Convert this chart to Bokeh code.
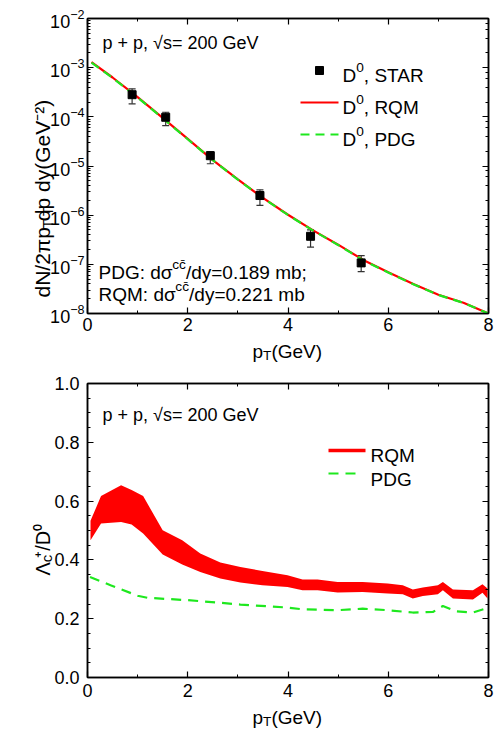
import math
from bokeh.plotting import figure
from bokeh.layouts import column
from bokeh.models import (Range1d, Label, LinearAxis, LogAxis, SingleIntervalTicker,
                          NumeralTickFormatter, CustomJSTickFormatter, Whisker, TeeHead,
                          ColumnDataSource, LogTicker)
from bokeh.embed import file_html
from bokeh.resources import INLINE

# ---------------- data ----------------
# top panel: D0 spectrum
star_pt = [0.89, 1.56, 2.45, 3.44, 4.45, 5.46]
star_val = [2.82e-4, 9.8e-5, 1.62e-5, 2.51e-6, 3.72e-7, 1.07e-7]
star_up = [3.72e-4, 1.24e-4, 1.97e-5, 3.27e-6, 5.0e-7, 1.51e-7]
star_lo = [1.84e-4, 6.6e-5, 1.11e-5, 1.58e-6, 2.24e-7, 7.1e-8]

d0_pt = [0.08, 0.5, 1.0, 1.5, 2.0, 2.5, 3.0, 3.5, 4.0, 4.5, 5.0, 5.5, 6.0, 6.5, 7.0, 7.25, 7.5, 8.0]
d0_rqm = [1.29e-3, 6.31e-4, 2.51e-4, 9.55e-5, 3.55e-5, 1.32e-5, 5.37e-6, 2.24e-6, 1.02e-6,
          4.90e-7, 2.51e-7, 1.23e-7, 6.92e-8, 3.98e-8, 2.40e-8, 2.0e-8, 1.66e-8, 1.0e-8]
d0_pdg = [1.27e-3, 6.2e-4, 2.48e-4, 9.4e-5, 3.5e-5, 1.31e-5, 5.3e-6, 2.22e-6, 1.01e-6,
          4.85e-7, 2.48e-7, 1.21e-7, 6.8e-8, 3.95e-8, 2.38e-8, 1.98e-8, 1.64e-8, 1.0e-8]

# bottom panel: Lambda_c / D0 ratio
band_pt = [0.06, 0.27, 0.67, 0.88, 1.11, 1.5, 1.89, 2.25, 2.65, 3.05, 3.49, 3.99, 4.29, 4.59,
           4.99, 5.49, 5.99, 6.29, 6.49, 6.69, 6.99, 7.09, 7.29, 7.69, 7.88, 7.98]
rqm_upper = [0.533, 0.617, 0.654, 0.638, 0.617, 0.501, 0.467, 0.422, 0.391, 0.376, 0.362, 0.348,
             0.333, 0.333, 0.325, 0.325, 0.320, 0.314, 0.299, 0.306, 0.314, 0.325, 0.299, 0.297,
             0.317, 0.303]
rqm_lower = [0.467, 0.524, 0.529, 0.520, 0.490, 0.418, 0.384, 0.359, 0.337, 0.323, 0.314, 0.308,
             0.297, 0.297, 0.289, 0.291, 0.286, 0.283, 0.269, 0.277, 0.283, 0.297, 0.269, 0.265,
             0.288, 0.269]
pdg_pt = [0.05, 0.46, 1.0, 1.2, 2.0, 2.6, 3.05, 3.99, 4.29, 4.99, 5.49, 5.99, 6.49, 6.89, 7.09,
          7.35, 7.69, 7.95]
pdg_ratio = [0.342, 0.314, 0.278, 0.271, 0.263, 0.255, 0.248, 0.238, 0.232, 0.229, 0.234, 0.229,
             0.221, 0.223, 0.243, 0.225, 0.221, 0.235]

# ---------------- styling helpers ----------------
FONT = "Liberation Sans"
RED = "#ff0000"
GREEN = "#1ee81e"

AW = {' ': 278, '(': 333, ')': 333, '+': 584, ',': 278, '-': 333, '.': 278, '/': 278, ':': 278,
      ';': 278, '=': 584, 'A': 667, 'C': 722, 'D': 722, 'G': 778, 'M': 833, 'N': 722, 'P': 667,
      'Q': 778, 'R': 722, 'S': 667, 'T': 611, 'V': 667, 'a': 556, 'b': 556, 'c': 500, 'd': 556,
      'e': 556, 'm': 833, 'p': 556, 's': 500, 'y': 500, '\u03c3': 600, '\u03c0': 600,
      '\u039b': 667, '\u221a': 549, '\u0304': 0}


def tw(s, size):
    return sum(AW.get(ch, 556) for ch in s) / 1000.0 * size


# page geometry (the page body has no margin)
FL, FR = 87, 488               # frame left / right
RB = 497 - FR - 1              # right border
T_TOP, T_BOT = 18, 313         # top frame
ROW_H = 365                    # height of each panel block
B_TOP, B_BOT = 383, 677        # bottom frame
P1_BB = 24                     # bottom border of top figure (tick labels)
P2_BB = 26


def conv_top(ax, ay):
    return (ax - FL) / (FR - FL) * 8.0, 10 ** (-8 + (T_BOT - ay) / (T_BOT - T_TOP) * 6.0)


def conv_bot(ax, ay):
    return (ax - FL) / (FR - FL) * 8.0, (B_BOT - ay) / (B_BOT - B_TOP) * 1.0


def lab(p, conv, ax, ay, text, size, angle=0.0, place="center"):
    x, y = conv(ax, ay)
    p.add_layout(Label(x=x, y=y, text=text, text_font=FONT, text_font_size=f"{size:.1f}px",
                       text_color="black", text_align="left", text_baseline="alphabetic",
                       angle=angle), place)


def rich(p, conv, ax, ay, segs, size, scale=0.72):
    for text, kind in segs:
        fs = size if kind == "n" else size * scale
        shift = 0.0
        if kind == "sup":
            shift = -0.42 * size
        elif kind == "sub":
            shift = 0.22 * size
        lab(p, conv, ax, ay + shift, text, fs)
        ax += tw(text, fs)


def style_axis(ax, size="18px", standoff=6):
    ax.axis_line_color = "black"
    ax.axis_line_width = 1.5
    ax.major_tick_in = 6
    ax.major_tick_out = 0
    ax.minor_tick_in = 3
    ax.minor_tick_out = 0
    ax.major_tick_line_color = "black"
    ax.major_tick_line_width = 1.2
    ax.minor_tick_line_color = "black"
    ax.major_label_text_font = FONT
    ax.major_label_text_font_size = size
    ax.major_label_text_color = "black"
    ax.major_label_standoff = standoff


def hidden_axis(ax):
    style_axis(ax, size="0px", standoff=0)
    ax.formatter = CustomJSTickFormatter(code="return ''")


def base_fig(**kw):
    p = figure(frame_width=FR - FL, output_backend="svg", toolbar_location=None,
               x_range=Range1d(0, 8), min_border_left=FL, min_border_right=RB, **kw)
    p.xgrid.visible = False
    p.ygrid.visible = False
    p.outline_line_color = "black"
    p.outline_line_width = 1.5
    p.background_fill_color = "white"
    p.border_fill_color = "white"
    return p


def xtitle_strip(y0, h):
    # bare figure with the same horizontal borders as the plots, frame = x-title area
    s = figure(frame_width=FR - FL, frame_height=h, output_backend="svg", toolbar_location=None,
               x_range=Range1d(FL, FR), y_range=Range1d(0, h),
               x_axis_location=None, y_axis_location=None,
               min_border_left=FL, min_border_right=RB, min_border_top=0, min_border_bottom=0)
    s.xgrid.visible = False
    s.ygrid.visible = False
    s.outline_line_color = None
    s.background_fill_color = "white"
    s.border_fill_color = "white"
    return s, (lambda ax, ay: (ax, (y0 + h) - ay))


# ---------------- top panel ----------------
p1 = base_fig(frame_height=T_BOT - T_TOP, y_range=Range1d(1e-8, 1e-2), y_axis_type="log",
              min_border_top=T_TOP, min_border_bottom=P1_BB)
p1.xaxis.ticker = SingleIntervalTicker(interval=2, num_minor_ticks=2)
p1.xaxis.formatter = NumeralTickFormatter(format="0")
style_axis(p1.xaxis[0], standoff=4)
style_axis(p1.yaxis[0], standoff=3)
top_ax = LinearAxis(ticker=SingleIntervalTicker(interval=2, num_minor_ticks=2))
hidden_axis(top_ax)
p1.add_layout(top_ax, "above")
right_ax = LogAxis(ticker=LogTicker())
hidden_axis(right_ax)
p1.add_layout(right_ax, "right")

p1.line(d0_pt, d0_rqm, line_color=RED, line_width=2.2)
p1.line(d0_pt, d0_pdg, line_color=GREEN, line_width=2.2, line_dash="9 6")
src = ColumnDataSource(dict(x=star_pt, y=star_val, up=star_up, lo=star_lo))
p1.add_layout(Whisker(source=src, base="x", upper="up", lower="lo", line_color="#333333",
                      line_width=1.2,
                      upper_head=TeeHead(size=7, line_color="#333333", line_width=1.2),
                      lower_head=TeeHead(size=7, line_color="#333333", line_width=1.2)))
p1.scatter("x", "y", source=src, marker="square", size=8, color="black")

rich(p1, conv_top, 102, 42, [("p + p, \u221as= 200 GeV", "n")], 18)
# legend
sx, sy = conv_top(319, 70)
p1.scatter([sx], [sy], marker="square", size=8, color="black")
lx0, ly = conv_top(300, 102)
lx1, _ = conv_top(338, 102)
p1.line([lx0, lx1], [ly, ly], line_color=RED, line_width=2.2)
lx0, ly = conv_top(300, 134)
p1.line([lx0, lx1], [ly, ly], line_color=GREEN, line_width=2.2, line_dash="9 6")
for by, name in [(75, "STAR"), (107, "RQM"), (139, "PDG")]:
    rich(p1, conv_top, 342, by, [("D", "n"), ("0", "sup"), (", " + name, "n")], 19)
rich(p1, conv_top, 98, 272, [("PDG: d\u03c3", "n"), ("cc\u0304", "sup"), ("/dy=0.189 mb;", "n")], 19)
rich(p1, conv_top, 98, 294, [("RQM: d\u03c3", "n"), ("cc\u0304", "sup"), ("/dy=0.221 mb", "n")], 19)

# y title: two labels in the left side panel (side-panel annotations are not clipped)
YT1 = 21
lab(p1, conv_top, 42, 297, "dN/2\u03c0p  dp  dy(GeV\u207b\u00b2)", YT1, angle=math.pi / 2,
    place="left")
lab(p1, conv_top, 42 + 0.22 * YT1, 297 - tw("dN/2\u03c0p", YT1), "T      T", YT1 * 0.72,
    angle=math.pi / 2, place="left")

p1_h = T_TOP + (T_BOT - T_TOP) + P1_BB
xt1, c_xt1 = xtitle_strip(p1_h, ROW_H - p1_h)
rich(xt1, c_xt1, 252, 351, [("p", "n"), ("T", "sub"), (" (GeV)", "n")], 19)

# ---------------- bottom panel ----------------
p2 = base_fig(frame_height=B_BOT - B_TOP, y_range=Range1d(0, 1.0),
              min_border_top=B_TOP - ROW_H, min_border_bottom=P2_BB)
p2.xaxis.ticker = SingleIntervalTicker(interval=2, num_minor_ticks=2)
p2.xaxis.formatter = NumeralTickFormatter(format="0")
p2.yaxis.ticker = SingleIntervalTicker(interval=0.2, num_minor_ticks=4)
p2.yaxis.formatter = NumeralTickFormatter(format="0.0")
style_axis(p2.xaxis[0], standoff=6)
style_axis(p2.yaxis[0], standoff=8)
top_ax2 = LinearAxis(ticker=SingleIntervalTicker(interval=2, num_minor_ticks=2))
hidden_axis(top_ax2)
p2.add_layout(top_ax2, "above")
right_ax2 = LinearAxis(ticker=SingleIntervalTicker(interval=0.2, num_minor_ticks=4))
hidden_axis(right_ax2)
p2.add_layout(right_ax2, "right")

p2.varea(x=band_pt, y1=rqm_lower, y2=rqm_upper, fill_color=RED)
p2.line(pdg_pt, pdg_ratio, line_color=GREEN, line_width=2.2, line_dash="10 7")

rich(p2, conv_bot, 102, 414, [("p + p, \u221as= 200 GeV", "n")], 18)
lx0, ly = conv_bot(328, 450)
lx1, _ = conv_bot(365, 450)
p2.line([lx0, lx1], [ly, ly], line_color=RED, line_width=3.5)
lx0, ly = conv_bot(328, 473)
lx1, _ = conv_bot(358, 473)
p2.line([lx0, lx1], [ly, ly], line_color=GREEN, line_width=2.2, line_dash="10 7")
rich(p2, conv_bot, 370, 455, [("RQM", "n")], 19)
rich(p2, conv_bot, 370, 479, [("PDG", "n")], 19)

YT2 = 20
lab(p2, conv_bot, 42, 575, "\u039b  \u207a/D\u2070", YT2, angle=math.pi / 2, place="left")
lab(p2, conv_bot, 42 + 0.22 * YT2, 575 - tw("\u039b", YT2), "c", YT2 * 0.75,
    angle=math.pi / 2, place="left")

p2_h = (B_TOP - ROW_H) + (B_BOT - B_TOP) + P2_BB
xt2, c_xt2 = xtitle_strip(ROW_H + p2_h, ROW_H - p2_h)
rich(xt2, c_xt2, 252, 717, [("p", "n"), ("T", "sub"), ("(GeV)", "n")], 19)

layout = column(p1, xt1, p2, xt2, spacing=0)
open("out.html", "w").write(file_html(layout, INLINE))
